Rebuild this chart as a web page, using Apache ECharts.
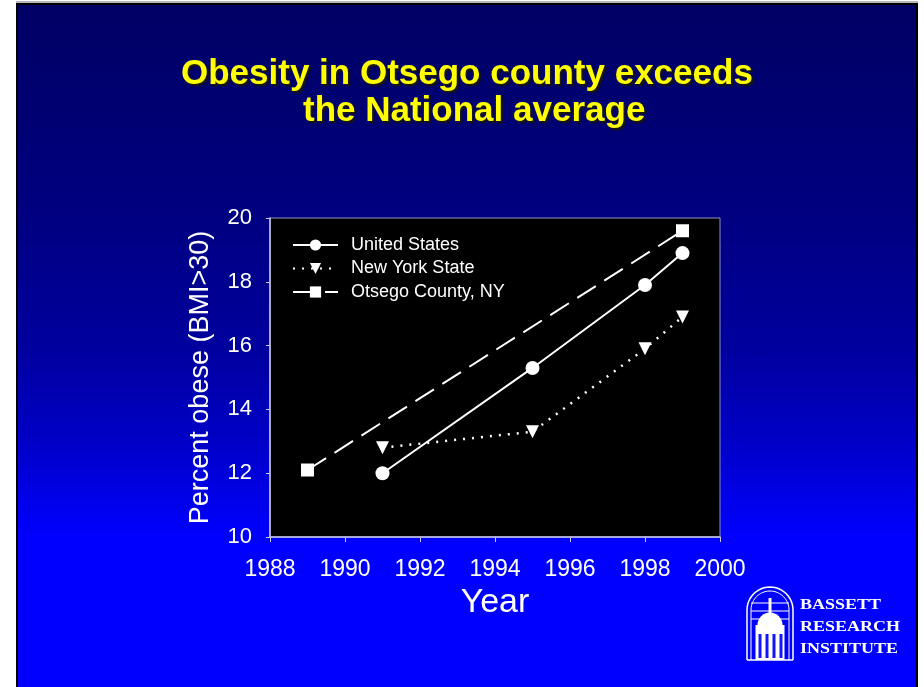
<!DOCTYPE html>
<html>
<head>
<meta charset="utf-8">
<script src="https://cdn.jsdelivr.net/npm/echarts@6/dist/echarts.min.js"></script>
<style>
  html, body { margin:0; padding:0; background:#ffffff; width:924px; height:687px; overflow:hidden; }
  #topline { position:absolute; left:16px; top:1px; width:902px; height:2px; background:#b8b8b8; }
  #slide { position:absolute; left:16px; top:3px; width:898px; height:684px;
    border-left:2px solid #000; border-top:2px solid #000; border-right:2px solid #000;
    background:linear-gradient(to bottom, #000064 0%, #000080 30%, #00009e 50%, #0000c8 64%, #0000f0 74%, #0000ff 78%, #0000ff 100%); }
  #chart { position:absolute; left:0; top:0; width:924px; height:687px; }
</style>
</head>
<body>
<div id="topline"></div>
<div id="slide"></div>
<div id="chart"></div>
<script>
const titleLines = ["Obesity in Otsego county exceeds", "the National average"];
const seriesNames = ["United States", "New York State", "Otsego County, NY"];
const usYears = [1991, 1995, 1998, 1999];
const usValues = [12.0, 15.3, 17.9, 18.9];
const nyYears = [1991, 1995, 1998, 1999];
const nyValues = [12.8, 13.3, 15.9, 16.9];
const otsegoYears = [1989, 1999];
const otsegoValues = [12.1, 19.6];
const xTicks = [1988, 1990, 1992, 1994, 1996, 1998, 2000];
const yTicks = [10, 12, 14, 16, 18, 20];
const xAxisName = "Year";
const yAxisName = "Percent obese (BMI>30)";
const logoLines = ["BASSETT", "RESEARCH", "INSTITUTE"];

const pair = (xs, ys) => xs.map((x, i) => [x, ys[i]]);
const font = "'Liberation Sans', Arial, sans-serif";

const chart = echarts.init(document.getElementById('chart'), null, { renderer: 'canvas' });

// decorative logo (arch with dome)
const logoX = 747, logoY = 587;
function archPoints(x0, x1, yTop, yBottom) {
  const cx = (x0 + x1) / 2, r = (x1 - x0) / 2, pts = [[x0, yBottom], [x0, yTop + r]];
  for (let k = 0; k <= 24; k++) {
    const a = Math.PI + Math.PI * k / 24;
    pts.push([cx + r * Math.cos(a), yTop + r + r * Math.sin(a)]);
  }
  pts.push([x1, yBottom]);
  return pts;
}
const P = [logoX, logoY];
const logo = [
  { type: 'polyline', position: P, shape: { points: archPoints(0, 46, 0, 73) }, style: { fill: null, stroke: '#ffffff', lineWidth: 1.5 } },
  { type: 'polyline', position: P, shape: { points: archPoints(4, 42, 4, 73) }, style: { fill: null, stroke: '#ffffff', lineWidth: 1 } },
  { type: 'line', position: P, shape: { x1: 0, y1: 73, x2: 46, y2: 73 }, style: { stroke: '#ffffff', lineWidth: 1.5 } },
  ...[16, 24, 32].map(dy => ({ type: 'line', position: P, shape: { x1: 4, y1: dy, x2: 42, y2: dy }, style: { stroke: '#ffffff', lineWidth: 1 } })),
  { type: 'sector', position: P, shape: { cx: 23, cy: 38, r0: 0, r: 12.5, startAngle: Math.PI, endAngle: 2 * Math.PI, clockwise: true }, style: { fill: '#ffffff' } },
  { type: 'rect', position: P, shape: { x: 21.5, y: 11, width: 3, height: 16 }, style: { fill: '#ffffff' } },
  { type: 'rect', position: P, shape: { x: 8.5, y: 38, width: 29, height: 35 }, style: { fill: '#ffffff' } },
  ...[13, 20, 27, 34].map(cx => ({ type: 'rect', position: P, shape: { x: cx - 1.5, y: 47, width: 3, height: 24 }, style: { fill: '#1414ff' } })),
  ...logoLines.map((t, i) => ({ type: 'text', x: 800, y: 605 + 22 * i, scaleX: 1.2, originX: 0,
    style: { text: t, fill: '#ffffff', font: "bold 15px 'Liberation Serif', 'DejaVu Serif', serif",
      verticalAlign: 'middle', align: 'left' } }))
];

const titleStyle = { color: '#ffff00', fontSize: 35, fontWeight: 'bold', fontFamily: font,
  textShadowColor: '#1a1a00', textShadowBlur: 2, textShadowOffsetX: 2, textShadowOffsetY: 2 };

chart.setOption({
  backgroundColor: 'transparent',
  animation: false,
  title: [
    { text: titleLines[0], left: 181, top: 57, padding: 0, textStyle: titleStyle },
    { text: titleLines[1], left: 303, top: 94, padding: 0, textStyle: titleStyle }
  ],
  grid: { left: 270, right: 204, top: 218, bottom: 150, show: true, backgroundColor: '#000000',
    borderColor: '#9090c8', borderWidth: 1 },
  legend: {
    left: 292, top: 236, orient: 'vertical', itemWidth: 45, itemHeight: 14, itemGap: 5.5,
    padding: 0,
    data: seriesNames,
    textStyle: { color: '#ffffff', fontSize: 18, lineHeight: 14, fontFamily: font, padding: [0, 0, 0, 8] }
  },
  xAxis: {
    type: 'value', min: 1988, max: 2000, interval: 2,
    name: xAxisName, nameLocation: 'middle', nameGap: 49,
    nameTextStyle: { color: '#ffffff', fontSize: 34, fontFamily: font },
    axisLine: { lineStyle: { color: '#c8c8e8', width: 1.5 } },
    axisTick: { show: true, length: 5, lineStyle: { color: '#c8c8e8' } },
    axisLabel: { color: '#ffffff', fontSize: 23, fontFamily: font, margin: 21,
      formatter: v => xTicks.includes(v) ? String(v) : '' },
    splitLine: { show: false }
  },
  yAxis: {
    type: 'value', min: 10, max: 20, interval: 2,
    name: yAxisName, nameLocation: 'middle', nameGap: 56,
    nameTextStyle: { color: '#ffffff', fontSize: 27, fontFamily: font },
    axisLine: { show: true, lineStyle: { color: '#c8c8e8', width: 1.5 } },
    axisTick: { show: true, length: 4, lineStyle: { color: '#c8c8e8' } },
    axisLabel: { color: '#ffffff', fontSize: 22, fontFamily: font, margin: 18,
      formatter: v => yTicks.includes(v) ? String(v) : '' },
    splitLine: { show: false }
  },
  series: [
    { name: seriesNames[0], type: 'line', data: pair(usYears, usValues),
      symbol: 'circle', symbolSize: 14,
      lineStyle: { color: '#ffffff', width: 2 },
      itemStyle: { color: '#ffffff' } },
    { name: seriesNames[1], type: 'line', data: pair(nyYears, nyValues),
      symbol: 'path://M0,0 L10,0 L5,10 Z', symbolSize: [13, 13],
      lineStyle: { color: '#ffffff', width: 2.5, type: [2, 7] },
      itemStyle: { color: '#ffffff' } },
    { name: seriesNames[2], type: 'line', data: pair(otsegoYears, otsegoValues),
      symbol: 'rect', symbolSize: 13,
      lineStyle: { color: '#ffffff', width: 2, type: [22, 10] },
      itemStyle: { color: '#ffffff' } }
  ],
  graphic: logo
});
</script>
</body>
</html>
